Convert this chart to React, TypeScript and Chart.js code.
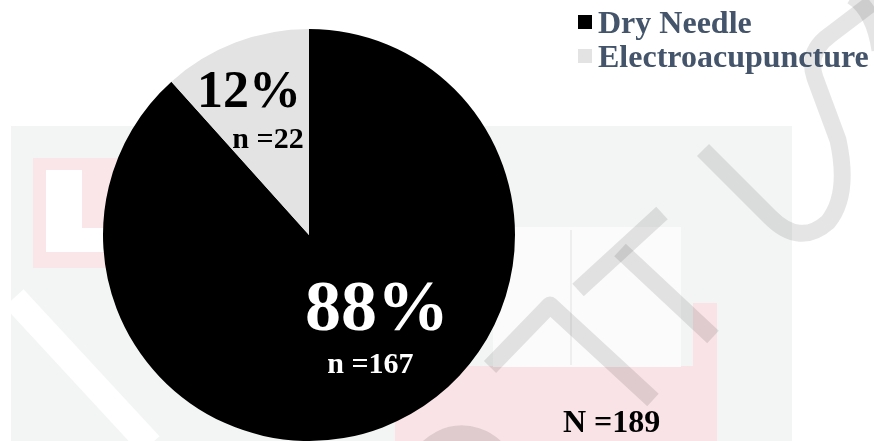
import React, { useEffect, useRef } from "react";
import { Chart, registerables } from "chart.js";

Chart.register(...registerables);

const categories = ["Dry Needle", "Electroacupuncture"];
const counts = [167, 22];
const percentLabels = ["88%", "12%"];
const countLabels = ["n =167", "n =22"];
const totalLabel = "N =189";
const sliceColors = ["#000000", "#e3e3e3"];

const FONT = "'Liberation Serif', 'Times New Roman', serif";

// label anchors in units of radius, relative to pie center (style only)
const pctPos = [
  { x: 0.33, y: 0.461, size: 72, color: "#ffffff" },
  { x: -0.291, y: -0.621, size: 52, color: "#000000" },
];
const nPos = [
  { x: 0.298, y: 0.67, size: 30, color: "#ffffff" },
  { x: -0.199, y: -0.422, size: 30, color: "#000000" },
];

const watermark = {
  id: "watermark",
  beforeDraw(chart: any) {
    const ctx = chart.ctx as CanvasRenderingContext2D;
    ctx.save();
    ctx.fillStyle = "#ffffff";
    ctx.fillRect(0, 0, chart.width, chart.height);
    // light grey panel
    ctx.fillStyle = "#f3f4f4";
    ctx.fillRect(11, 126, 781, 320);
    // pink logo block with white U
    ctx.fillStyle = "#fae6e9";
    ctx.fillRect(33, 158, 110, 110);
    ctx.fillStyle = "#ffffff";
    ctx.fillRect(46, 170, 36, 82);
    ctx.fillRect(46, 228, 100, 24);
    // lower pink block
    ctx.fillStyle = "#f9e3e6";
    ctx.fillRect(395, 366, 322, 80);
    ctx.fillRect(693, 303, 24, 70);
    // book
    ctx.fillStyle = "#fbfbfb";
    ctx.fillRect(493, 227, 188, 140);
    ctx.strokeStyle = "#eeeeee";
    ctx.lineWidth = 2;
    ctx.beginPath();
    ctx.moveTo(571, 230);
    ctx.lineTo(571, 365);
    ctx.stroke();
    // white diagonal band lower-left
    ctx.strokeStyle = "#ffffff";
    ctx.lineWidth = 26;
    ctx.beginPath();
    ctx.moveTo(14, 298);
    ctx.lineTo(150, 445);
    ctx.stroke();
    // grey diagonal strokes
    ctx.strokeStyle = "rgba(0,0,0,0.1)";
    ctx.lineWidth = 17;
    ctx.lineCap = "butt";
    ctx.lineJoin = "round";
    ctx.beginPath();
    ctx.moveTo(703, 150);
    ctx.lineTo(770, 217);
    ctx.quadraticCurveTo(800, 247, 828, 222);
    ctx.quadraticCurveTo(850, 195, 838, 140);
    ctx.lineTo(815, 78);
    ctx.quadraticCurveTo(806, 52, 830, 35);
    ctx.lineTo(876, 0);
    ctx.stroke();
    ctx.beginPath();
    ctx.moveTo(852, -4);
    ctx.quadraticCurveTo(874, 10, 880, 50);
    ctx.stroke();
    ctx.beginPath();
    ctx.moveTo(662, 213);
    ctx.lineTo(578, 290);
    ctx.stroke();
    ctx.beginPath();
    ctx.moveTo(620, 250);
    ctx.lineTo(713, 337);
    ctx.stroke();
    ctx.beginPath();
    ctx.moveTo(490, 367);
    ctx.lineTo(550, 305);
    ctx.lineTo(653, 400);
    ctx.stroke();
    ctx.beginPath();
    ctx.arc(462, 482, 48, Math.PI * 1.1, Math.PI * 1.75);
    ctx.stroke();
    ctx.restore();
  },
};

const labelsPlugin = {
  id: "sliceLabels",
  afterDatasetsDraw(chart: any) {
    const ctx = chart.ctx as CanvasRenderingContext2D;
    const meta = chart.getDatasetMeta(0);
    ctx.save();
    ctx.textAlign = "center";
    ctx.textBaseline = "alphabetic";
    meta.data.forEach((arc: any, i: number) => {
      const { x, y, outerRadius } = arc.getProps(["x", "y", "outerRadius"], true);
      const p = pctPos[i];
      ctx.fillStyle = p.color;
      ctx.font = `bold ${p.size}px ${FONT}`;
      ctx.fillText(percentLabels[i], x + p.x * outerRadius, y + p.y * outerRadius);
      const n = nPos[i];
      ctx.fillStyle = n.color;
      ctx.font = `bold ${n.size}px ${FONT}`;
      ctx.fillText(countLabels[i], x + n.x * outerRadius, y + n.y * outerRadius);
    });
    // total
    ctx.fillStyle = "#000000";
    ctx.font = `bold 32px ${FONT}`;
    ctx.textAlign = "left";
    ctx.fillText(totalLabel, 563, 432);
    // legend
    ctx.font = `bold 32px ${FONT}`;
    categories.forEach((c, i) => {
      const baseY = 33 + i * 34;
      ctx.fillStyle = sliceColors[i];
      ctx.fillRect(578, baseY - 18, 14, 14);
      ctx.fillStyle = "#44546a";
      ctx.fillText(c, 598, baseY);
    });
    ctx.restore();
  },
};

export default function App() {
  const ref = useRef<HTMLCanvasElement>(null);
  useEffect(() => {
    document.body.style.margin = "0";
    const chart = new Chart(ref.current!, {
      type: "pie",
      data: {
        labels: categories,
        datasets: [
          {
            data: counts,
            backgroundColor: sliceColors,
            borderWidth: 0,
          },
        ],
      },
      options: {
        animation: false,
        responsive: false,
        layout: { padding: { left: 103, right: 359, top: 29, bottom: 0 } },
        plugins: { legend: { display: false }, tooltip: { enabled: false } },
      },
      plugins: [watermark, labelsPlugin],
    });
    return () => chart.destroy();
  }, []);
  return (
    <div style={{ position: "fixed", left: 0, top: 0, width: 874, height: 441 }}>
      <canvas ref={ref} width={874} height={441} style={{ display: "block" }} />
    </div>
  );
}
